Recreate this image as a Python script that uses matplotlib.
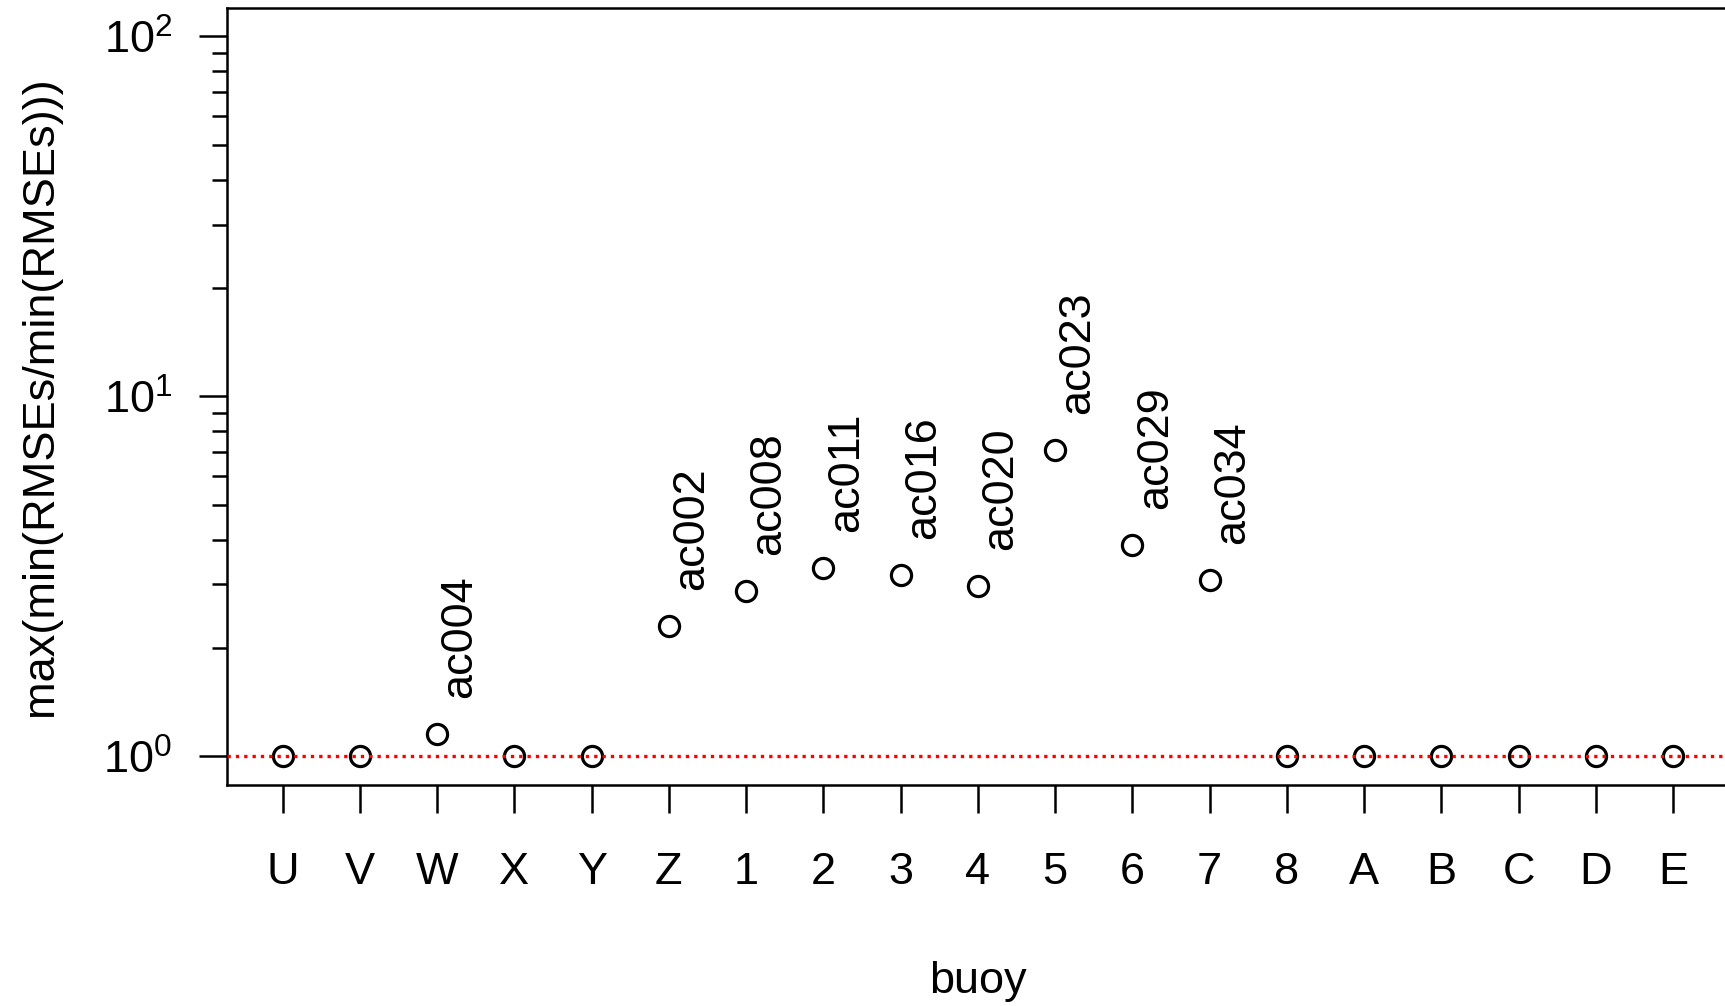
import matplotlib
matplotlib.use("Agg")
import matplotlib.pyplot as plt
import numpy as np

buoys = ["U", "V", "W", "X", "Y", "Z", "1", "2", "3", "4", "5", "6", "7", "8",
         "A", "B", "C", "D", "E"]
ratio = [1.0, 1.0, 1.155, 1.0, 1.0, 2.30, 2.87, 3.33, 3.19, 2.97, 7.10, 3.86,
         3.08, 1.0, 1.0, 1.0, 1.0, 1.0, 1.0]
station = ["", "", "ac004", "", "", "ac002", "ac008", "ac011", "ac016", "ac020",
           "ac023", "ac029", "ac034", "", "", "", "", "", ""]
ytick_vals = [1, 10, 100]
ytick_labels = ["$10^{0}$", "$10^{1}$", "$10^{2}$"]

plt.rcParams["font.family"] = ["Liberation Sans", "DejaVu Sans"]
plt.rcParams["mathtext.fontset"] = "custom"
plt.rcParams["mathtext.rm"] = "Liberation Sans"
plt.rcParams["mathtext.default"] = "regular"
fs = 32.5

fig = plt.figure(figsize=(17.25, 10.06), dpi=100)
ax = fig.add_axes([0.1316, 0.2197, 0.8705, 0.7727])

x = np.arange(1, len(buoys) + 1)
ax.plot(x, ratio, linestyle="none", marker="o", ms=14.5, mfc="none",
        mec="black", mew=2.3, zorder=3)
ax.axhline(1.0, color="red", lw=2.4, linestyle=(0, (1, 1.5)), zorder=4)

for xi, yi, lab in zip(x, ratio, station):
    if lab:
        ax.annotate(lab, (xi, yi), xytext=(16.5, 26), textcoords="offset points",
                    rotation=90, ha="center", va="bottom", fontsize=fs)

ax.set_yscale("log")
ax.set_ylim(10 ** -0.08, 10 ** 2.08)
ax.set_xlim(0.28, len(buoys) + 0.72)
ax.set_xticks(x)
ax.set_xticklabels(buoys, fontsize=fs)
ax.set_yticks(ytick_vals)
ax.set_yticklabels(ytick_labels, fontsize=fs)
ax.set_yticks([m * 10 ** k for k in (0, 1) for m in range(2, 10)], minor=True)
ax.yaxis.set_minor_formatter(matplotlib.ticker.NullFormatter())

ax.tick_params(axis="x", which="major", direction="out", length=20, width=1.8, pad=28.5)
ax.tick_params(axis="y", which="major", direction="out", length=20, width=1.8, pad=19.5)
ax.tick_params(axis="y", which="minor", direction="out", length=10.5, width=1.8)
ax.tick_params(axis="x", which="minor", bottom=False)
for s in ax.spines.values():
    s.set_linewidth(1.8)

ax.set_ylabel("max(min(RMSEs/min(RMSEs)))", fontsize=fs, va="center")
ax.yaxis.set_label_coords(-0.1245, 0.5)
fig.text(978 / 1725, 1 - 982 / 1006, "buoy", ha="center", va="center", fontsize=fs)

plt.savefig("out.png", dpi=100)
